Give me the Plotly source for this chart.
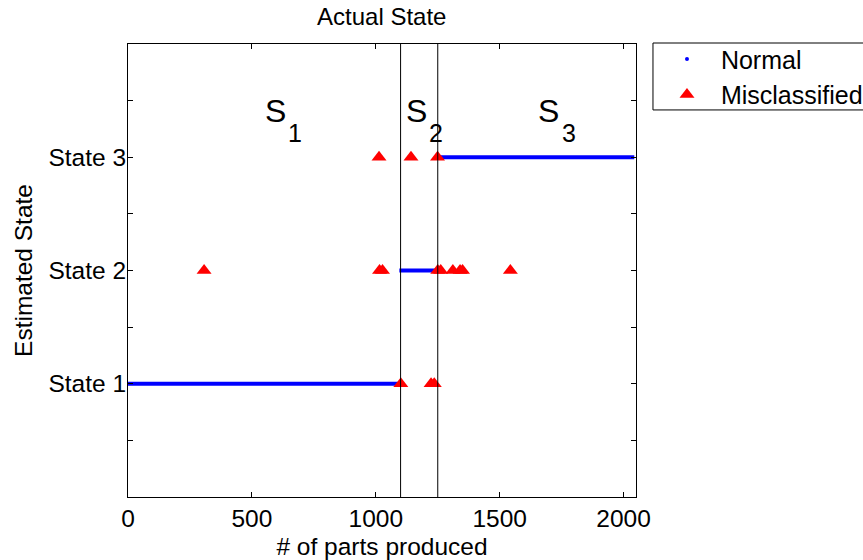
import plotly.graph_objects as go

# ---- data ----
state_labels = ["", "State 1", "", "State 2", "", "State 3", ""]
state_tickvals = [0.5, 1, 1.5, 2, 2.5, 3, 3.5]
x_tickvals = [0, 500, 1000, 1500, 2000]

# correctly classified ("Normal") runs: start, end, state
normal_start = [0, 1095, 1260]
normal_end = [1100, 1250, 2043]
normal_state = [1, 2, 3]

# misclassified parts
mis_x = [307, 1015, 1027, 1250, 1262, 1311, 1340, 1350, 1543,
         1101, 1223, 1236,
         1013, 1142, 1249]
mis_y = [2, 2, 2, 2, 2, 2, 2, 2, 2,
         1, 1, 1,
         3, 3, 3]

# actual state boundaries
boundaries = [1100, 1250]

# region labels
region_names = ["1", "2", "3"]
region_s_x = [595, 1164, 1695]
region_sub_x = [675, 1243, 1780]

FONT = "Liberation Sans, Arial, Helvetica, sans-serif"

fig = go.Figure()

for xs, xe, st in zip(normal_start, normal_end, normal_state):
    fig.add_trace(go.Scatter(x=[xs, xe], y=[st, st], mode="lines",
                             line=dict(color="rgb(0,0,255)", width=4),
                             showlegend=False, hoverinfo="skip"))

fig.add_trace(go.Scatter(x=[None], y=[None], mode="markers",
                         marker=dict(color="rgb(0,0,255)", size=4),
                         name="&nbsp;&nbsp;Normal"))

fig.add_trace(go.Scatter(x=mis_x, y=mis_y, mode="markers",
                         marker=dict(symbol="triangle-up", color="rgb(255,0,0)", size=13,
                                     line=dict(width=0)),
                         name="&nbsp;&nbsp;Misclassified"))

for b in boundaries:
    fig.add_shape(type="line", xref="x", yref="y", x0=b, x1=b, y0=0, y1=4,
                  line=dict(color="black", width=1), layer="above")

annotations = []
for n, sx, ux in zip(region_names, region_s_x, region_sub_x):
    annotations.append(dict(x=sx, y=3.41, xref="x", yref="y", text="S", showarrow=False,
                            font=dict(size=32, color="black", family=FONT),
                            xanchor="center", yanchor="middle"))
    annotations.append(dict(x=ux, y=3.21, xref="x", yref="y", text=n, showarrow=False,
                            font=dict(size=25, color="black", family=FONT),
                            xanchor="center", yanchor="middle"))

fig.update_layout(
    width=863, height=560,
    margin=dict(l=128, r=227, t=44, b=63, autoexpand=False),
    paper_bgcolor="white", plot_bgcolor="white",
    font=dict(family=FONT, size=24, color="black"),
    title=dict(text="Actual State", x=(127.5 + 636) / 2 / 863, xanchor="center",
               y=1 - 17 / 560, yanchor="middle", font=dict(size=24)),
    xaxis=dict(range=[0, 2050], tickvals=x_tickvals, ticks="inside", ticklen=5,
               tickcolor="black", showline=True, linecolor="black", linewidth=1,
               mirror="ticks", showgrid=False, zeroline=False, automargin=False,
               title=dict(text="# of parts produced", standoff=8, font=dict(size=24.5)),
               tickfont=dict(size=24.5)),
    yaxis=dict(range=[0, 4], tickvals=state_tickvals, ticktext=state_labels,
               ticks="inside", ticklen=5, tickcolor="black", showline=True,
               linecolor="black", linewidth=1, mirror="ticks", showgrid=False,
               zeroline=False, automargin=False, ticklabelstandoff=-4,
               title=dict(text="Estimated State", standoff=8, font=dict(size=24.5)),
               tickfont=dict(size=24.5)),
    legend=dict(x=1.061, y=1.017, xanchor="left", yanchor="top",
                bgcolor="rgba(0,0,0,0)", borderwidth=0,
                font=dict(size=25), tracegroupgap=0),
    annotations=annotations,
    showlegend=True,
)

# legend frame
fig.add_shape(type="rect", xref="paper", yref="paper",
              x0=(653 - 127.5) / 508.5, x1=(866 - 127.5) / 508.5,
              y0=(497.4 - 110) / 453.4, y1=(497.4 - 43) / 453.4,
              line=dict(color="black", width=1), fillcolor="rgba(0,0,0,0)")

fig.write_html("out.html", config={"displayModeBar": False},
               post_script="document.body.style.margin='0';")
